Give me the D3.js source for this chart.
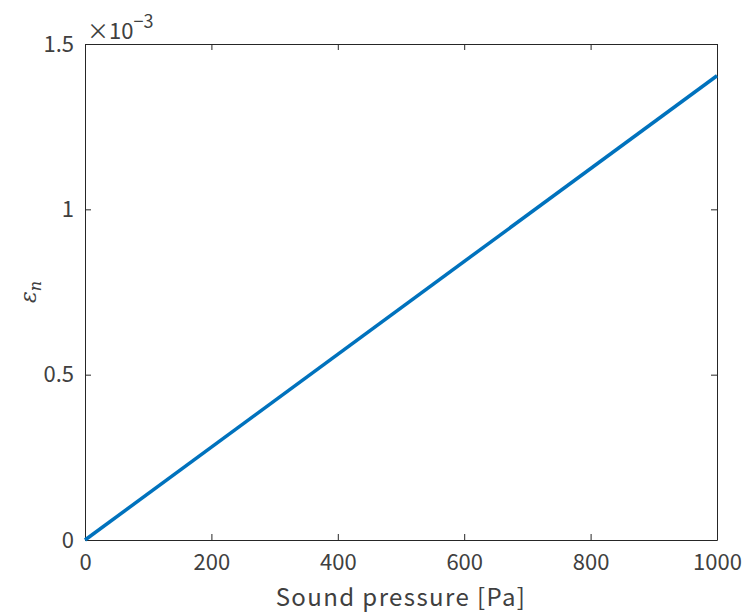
<!DOCTYPE html>
<html>
<head>
<meta charset="utf-8">
<script src="https://cdn.jsdelivr.net/npm/d3@7"></script>
<style>
  body { margin: 0; background: #fff; }
  svg { display: block; }
  text { font-family: "Noto Sans CJK JP", "Noto Sans", sans-serif; fill: #404040; }
</style>
</head>
<body>
<svg id="chart" width="748" height="616"></svg>
<script>
// Sound pressure [Pa] vs normalized strain
const pressure = [0, 1000];
const strain = [0, 1.404e-3];
const xTicks = [0, 200, 400, 600, 800, 1000];
const xTickLabels = ["0", "200", "400", "600", "800", "1000"];
const yTicks = [0, 0.5e-3, 1e-3, 1.5e-3];
const yTickLabels = ["0", "0.5", "1", "1.5"];

const W = 748, H = 616;
const margin = { left: 85, right: 31, top: 44, bottom: 76 };
const iw = W - margin.left - margin.right;
const ih = H - margin.top - margin.bottom;

const svg = d3.select("#chart");
const g = svg.append("g").attr("transform", `translate(${margin.left},${margin.top})`);

const x = d3.scaleLinear().domain([0, 1000]).range([0, iw]);
const y = d3.scaleLinear().domain([0, 1.5e-3]).range([ih, 0]);

const axisColor = "#262626";
const tickLen = 6;

// axes (ticks inward, mirrored on the opposite side)
const axBottom = g.append("g").attr("transform", `translate(0,${ih})`)
  .call(d3.axisBottom(x).tickValues(xTicks).tickSizeInner(-tickLen).tickSizeOuter(0).tickPadding(14)
    .tickFormat((d, i) => xTickLabels[i]));
const axTop = g.append("g")
  .call(d3.axisTop(x).tickValues(xTicks).tickSizeInner(-tickLen).tickSizeOuter(0).tickFormat(""));
const axLeft = g.append("g")
  .call(d3.axisLeft(y).tickValues(yTicks).tickSizeInner(-tickLen).tickSizeOuter(0).tickPadding(11)
    .tickFormat((d, i) => yTickLabels[i]));
const axRight = g.append("g").attr("transform", `translate(${iw},0)`)
  .call(d3.axisRight(y).tickValues(yTicks).tickSizeInner(-tickLen).tickSizeOuter(0).tickFormat(""));

[axBottom, axTop, axLeft, axRight].forEach(a => {
  a.select(".domain").attr("stroke", axisColor).attr("stroke-width", 1);
  a.selectAll(".tick line").attr("stroke", axisColor);
  a.selectAll(".tick text").style("font-size", "22px").attr("fill", "#404040");
});

// line
const line = d3.line().x((d, i) => x(pressure[i])).y(d => y(d));
g.append("path")
  .datum(strain)
  .attr("d", line)
  .attr("fill", "none")
  .attr("stroke", "#0072BD")
  .attr("stroke-width", 3.5);

// exponent label
const ex = svg.append("text").attr("x", margin.left + 2).attr("y", margin.top - 5)
  .style("font-size", "22px");
ex.append("tspan").text("×10");
ex.append("tspan").attr("dy", -11).style("font-size", "18px").text("−3");

// x label
svg.append("text")
  .attr("x", margin.left + iw / 2).attr("y", H - 10)
  .attr("text-anchor", "middle").style("font-size", "24px").style("letter-spacing", "1.4px")
  .text("Sound pressure [Pa]");

// y label
const yl = svg.append("text")
  .attr("transform", `translate(36,${margin.top + ih / 2}) rotate(-90)`)
  .attr("text-anchor", "middle").attr("fill", "#505050")
  .style("font-family", "'DejaVu Serif', serif").style("font-style", "italic").style("font-size", "22px");
yl.append("tspan").text("ε");
yl.append("tspan").attr("dy", 5).style("font-size", "16px").text("n");
</script>
</body>
</html>
